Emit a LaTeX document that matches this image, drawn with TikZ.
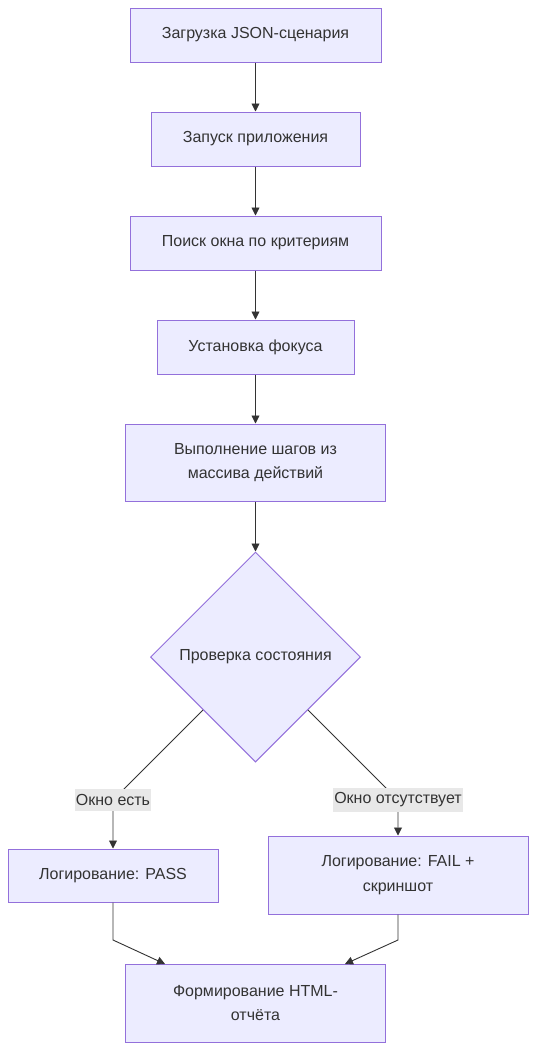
\documentclass[tikz,border=0pt]{standalone}
\usepackage{fontspec}
\setmainfont{Liberation Sans}
\usetikzlibrary{shapes.geometric,arrows.meta}
\definecolor{boxfill}{HTML}{ECECFF}
\definecolor{boxline}{HTML}{9370DB}
\definecolor{ink}{HTML}{333333}
\definecolor{lblbg}{HTML}{E8E8E8}
\tikzset{
  proc/.style={draw=boxline, fill=boxfill, line width=1pt, rectangle, inner sep=0pt, align=center, text=ink, font=\fontsize{16}{24.5}\selectfont},
  decide/.style={draw=boxline, fill=boxfill, line width=1pt, diamond, aspect=1, inner sep=0pt, minimum width=210pt, minimum height=210pt, text=ink, font=\fontsize{16}{24}\selectfont},
  lbl/.style={fill=lblbg, text=ink, inner xsep=1pt, inner ysep=5pt, font=\fontsize{16}{18}\selectfont},
  conn/.style={draw=ink, line width=0.9pt, -{Triangle[length=8pt,width=8pt]}},
  plain/.style={draw=ink, line width=0.9pt}
}
\begin{document}
\begin{tikzpicture}[x=1pt,y=-1pt]
\useasboundingbox[fill=white] (0,0) rectangle (536,1050);
\node[proc, minimum width=251pt, minimum height=54pt] (n1) at (255.5,35) {Загрузка JSON-сценария};
\node[proc, minimum width=209pt, minimum height=54pt] (n2) at (255.5,139) {Запуск приложения};
\node[proc, minimum width=251pt, minimum height=54pt] (n3) at (255.5,243) {Поиск окна по критериям};
\node[proc, minimum width=197pt, minimum height=54pt] (n4) at (255.5,347) {Установка фокуса};
\node[proc, minimum width=260pt, minimum height=77pt] (n5) at (255.5,462.5) {Выполнение шагов из\\массива действий};
\node[decide] (d) at (255.5,657) {Проверка состояния};
\node[proc, minimum width=210pt, minimum height=53pt] (pass) at (113,875.5) {Логирование: PASS};
\node[proc, minimum width=260pt, minimum height=78pt] (fail) at (398,875) {Логирование: FAIL +\\скриншот};
\node[proc, minimum width=260pt, minimum height=78pt] (rep) at (255.5,1003) {Формирование HTML-\\отчёта};
\coordinate (bl) at (113,800);
\coordinate (br) at (398,800);
\coordinate (pl) at (113,940);
\coordinate (pr) at (398,940);
\coordinate (dl) at (203,710);
\coordinate (dr) at (308,710);
\coordinate (tl) at (165,964);
\coordinate (tr) at (345,964);
\draw[conn] (n1) -- (n2);
\draw[conn] (n2) -- (n3);
\draw[conn] (n3) -- (n4);
\draw[conn] (n4) -- (n5);
\draw[conn] (n5) -- (d);
\draw[conn] (dl) -- (bl) -- (pass);
\draw[conn] (dr) -- (br) -- (fail);
\draw[conn] (pass.south) -- (pl) -- (tl);
\draw[conn] (fail.south) -- (pr) -- (tr);
\node[lbl] (la) at (bl) {Окно есть};
\node[lbl] (lb) at (br) {Окно отсутствует};
\end{tikzpicture}
\end{document}
